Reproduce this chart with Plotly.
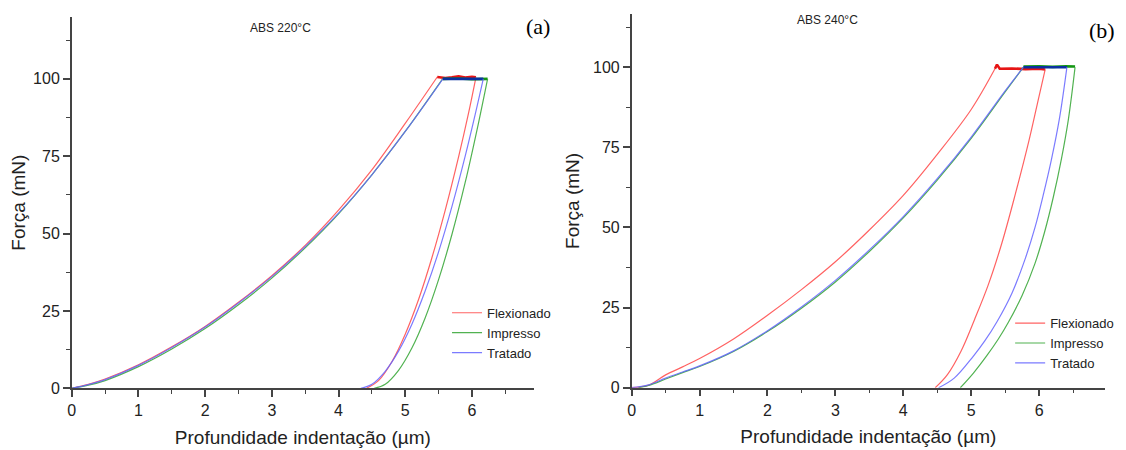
import plotly.graph_objects as go

# ---------------- data: ABS 220 °C (panel a) ----------------
flex220_load_h = [0, 0.25, 0.5, 1.0, 1.5, 2.0, 2.5, 3.0, 3.5, 4.0, 4.5, 5.0, 5.48]
flex220_load_f = [0, 1.3, 3.0, 7.6, 13.4, 20.0, 27.8, 36.4, 46.2, 57.6, 70.6, 85.6, 100.6]
flex220_hold_h = [5.48, 5.6, 5.7, 5.8, 5.9, 6.0, 6.06]
flex220_hold_f = [100.6, 100.3, 100.5, 100.8, 100.4, 100.7, 100.5]
flex220_unl_h = [6.06, 5.95, 5.8, 5.6, 5.4, 5.2, 5.0, 4.8, 4.6, 4.42]
flex220_unl_f = [100.5, 89.0, 74.8, 57.6, 42.2, 28.7, 17.5, 8.6, 2.5, 0]

imp220_load_h = [0, 0.25, 0.5, 1.0, 1.5, 2.0, 2.5, 3.0, 3.5, 4.0, 4.5, 5.0, 5.56]
imp220_load_f = [0, 1.0, 2.5, 7.0, 12.7, 19.3, 27.0, 35.6, 45.4, 56.4, 69.0, 83.0, 100.0]
imp220_hold_h = [5.56, 5.8, 6.0, 6.235]
imp220_hold_f = [100.0, 100.1, 99.9, 100.0]
imp220_unl_h = [6.235, 6.1, 5.9, 5.7, 5.5, 5.3, 5.1, 4.9, 4.7, 4.535]
imp220_unl_f = [100, 85.9, 66.6, 49.7, 35.1, 22.8, 13.0, 5.8, 1.3, 0]

trat220_load_h = [0, 0.25, 0.5, 1.0, 1.5, 2.0, 2.5, 3.0, 3.5, 4.0, 4.5, 5.0, 5.565]
trat220_load_f = [0, 1.2, 2.8, 7.4, 13.2, 19.8, 27.6, 36.1, 45.8, 56.6, 69.0, 83.0, 100.0]
trat220_hold_h = [5.565, 5.8, 6.0, 6.17]
trat220_hold_f = [100.0, 100.0, 100.0, 100.0]
trat220_unl_h = [6.17, 6.05, 5.9, 5.7, 5.5, 5.3, 5.1, 4.9, 4.7, 4.5, 4.335]
trat220_unl_f = [100, 88.6, 75.1, 58.7, 44.1, 31.5, 20.7, 12.0, 5.5, 1.3, 0]

# ---------------- data: ABS 240 °C (panel b) ----------------
flex240_load_h = [0, 0.25, 0.5, 0.75, 1.0, 1.5, 2.0, 2.5, 3.0, 3.5, 4.0, 4.5, 5.0, 5.35]
flex240_load_f = [0, 0.8, 4.0, 6.5, 9.1, 15.2, 22.6, 30.6, 39.3, 49.2, 60.0, 72.8, 86.8, 99.5]
flex240_hold_h = [5.35, 5.38, 5.42, 5.6, 5.8, 6.0, 6.09]
flex240_hold_f = [99.5, 100.8, 99.5, 99.6, 99.4, 99.5, 99.3]
flex240_unl_h = [6.09, 6.0, 5.85, 5.65, 5.45, 5.25, 5.05, 4.85, 4.65, 4.47]
flex240_unl_f = [99.3, 91.0, 77.0, 60.4, 45.0, 32.0, 21.3, 11.4, 4.1, 0]

imp240_load_h = [0.1, 0.25, 0.5, 0.75, 1.0, 1.5, 2.0, 2.5, 3.0, 3.5, 4.0, 4.5, 5.0, 5.5, 5.77]
imp240_load_f = [0, 0.7, 2.7, 4.7, 6.6, 11.3, 17.5, 24.8, 33.0, 42.5, 53.0, 64.8, 77.8, 92.3, 100.0]
imp240_hold_h = [5.77, 6.0, 6.2, 6.4, 6.53]
imp240_hold_f = [100.2, 100.3, 100.1, 100.3, 100.2]
imp240_unl_h = [6.53, 6.43, 6.33, 6.21, 6.08, 5.94, 5.75, 5.55, 5.4, 5.23, 5.03, 4.84]
imp240_unl_f = [100, 83.5, 71.5, 59.5, 48.5, 38.8, 28.8, 20.5, 15.2, 10.0, 4.5, 0]

trat240_load_h = [0, 0.25, 0.5, 0.75, 1.0, 1.5, 2.0, 2.5, 3.0, 3.5, 4.0, 4.5, 5.0, 5.5, 5.77]
trat240_load_f = [0, 0.9, 3.0, 4.9, 6.8, 11.5, 17.8, 25.2, 33.5, 43.0, 53.4, 65.2, 78.2, 92.6, 100.0]
trat240_hold_h = [5.77, 6.0, 6.2, 6.41]
trat240_hold_f = [100.0, 100.0, 100.0, 100.0]
trat240_unl_h = [6.41, 6.3, 6.18, 6.06, 5.94, 5.8, 5.6, 5.38, 5.2, 5.03, 4.75, 4.52]
trat240_unl_f = [100, 84.0, 71.0, 60.0, 50.0, 40.5, 29.5, 20.6, 14.6, 9.8, 3.0, 0]

series_names = ["Flexionado", "Impresso", "Tratado"]
line_colors = ["rgba(255,70,70,0.85)", "rgba(50,165,50,0.85)", "rgba(100,100,255,0.85)"]
hold_colors = ["rgb(230,20,20)", "rgb(20,150,20)", "rgb(10,50,160)"]

panel_a = [
    (flex220_load_h, flex220_load_f, flex220_hold_h, flex220_hold_f, flex220_unl_h, flex220_unl_f),
    (imp220_load_h, imp220_load_f, imp220_hold_h, imp220_hold_f, imp220_unl_h, imp220_unl_f),
    (trat220_load_h, trat220_load_f, trat220_hold_h, trat220_hold_f, trat220_unl_h, trat220_unl_f),
]
panel_b = [
    (flex240_load_h, flex240_load_f, flex240_hold_h, flex240_hold_f, flex240_unl_h, flex240_unl_f),
    (imp240_load_h, imp240_load_f, imp240_hold_h, imp240_hold_f, imp240_unl_h, imp240_unl_f),
    (trat240_load_h, trat240_load_f, trat240_hold_h, trat240_hold_f, trat240_unl_h, trat240_unl_f),
]

FONT = "Liberation Sans, Arial, sans-serif"
SERIF = "Liberation Serif, Times New Roman, serif"
TXT = "#222"
fig = go.Figure()

for panel, xa, ya, leg in [(panel_a, "x", "y", "legend"), (panel_b, "x2", "y2", "legend2")]:
    for i, (lh, lf, hh, hf, uh, uf) in enumerate(panel):
        grp = f"{leg}_{i}"
        fig.add_trace(go.Scatter(x=lh, y=lf, mode="lines", name=series_names[i],
                                 line=dict(color=line_colors[i], width=1.2, shape="spline"),
                                 xaxis=xa, yaxis=ya, legend=leg, legendgroup=grp, showlegend=True))
        fig.add_trace(go.Scatter(x=hh, y=hf, mode="lines", name=series_names[i],
                                 line=dict(color=hold_colors[i], width=2.6),
                                 xaxis=xa, yaxis=ya, legendgroup=grp, showlegend=False))
        fig.add_trace(go.Scatter(x=uh, y=uf, mode="lines", name=series_names[i],
                                 line=dict(color=line_colors[i], width=1.2, shape="spline"),
                                 xaxis=xa, yaxis=ya, legendgroup=grp, showlegend=False))

axis_common = dict(showline=True, linecolor="#444", linewidth=1.5, ticks="outside",
                   ticklen=7, tickwidth=1.5, tickcolor="#444", showgrid=False, zeroline=False,
                   automargin=False, tickfont=dict(family=FONT, size=16, color=TXT))
minor_x = dict(dtick=0.5, ticks="outside", ticklen=4, tickcolor="#444", tickwidth=1.2)
minor_y = dict(dtick=12.5, ticks="outside", ticklen=4, tickcolor="#444", tickwidth=1.2)
xtitle = dict(text="Profundidade indentação (µm)", font=dict(family=FONT, size=19, color=TXT), standoff=12)
ytitle = dict(text="Força (mN)", font=dict(family=FONT, size=19, color=TXT), standoff=8)

fig.update_layout(
    width=1126, height=450, margin=dict(l=0, r=0, t=0, b=0),
    paper_bgcolor="white", plot_bgcolor="white",
    xaxis=dict(domain=[0.0566, 0.4671], range=[0, 6.93], dtick=1, tick0=0, anchor="y",
               minor=minor_x, title=xtitle, **axis_common),
    yaxis=dict(domain=[0.1549, 0.98], range=[0, 120], dtick=25, tick0=0, anchor="x",
               minor=minor_y, title=ytitle, **axis_common),
    xaxis2=dict(domain=[0.5539, 0.9742], range=[0, 6.97], dtick=1, tick0=0, anchor="y2",
                minor=minor_x, title=xtitle, **axis_common),
    yaxis2=dict(domain=[0.1562, 0.9867], range=[0, 116.6], dtick=25, tick0=0, anchor="x2",
                minor=minor_y, title=ytitle, **axis_common),
    legend=dict(x=0.3899, y=0.356, xanchor="left", yanchor="top", bgcolor="rgba(0,0,0,0)",
                font=dict(family=FONT, size=13, color=TXT), tracegroupgap=0, itemwidth=30),
    legend2=dict(x=0.890, y=0.333, xanchor="left", yanchor="top", bgcolor="rgba(0,0,0,0)",
                 font=dict(family=FONT, size=13, color=TXT), tracegroupgap=0, itemwidth=30),
    annotations=[
        dict(text="ABS 220°C", x=0.2416, y=0.9556, xref="paper", yref="paper", showarrow=False,
             xanchor="center", yanchor="middle", font=dict(family=FONT, size=12, color=TXT)),
        dict(text="ABS 240°C", x=0.7274, y=0.9733, xref="paper", yref="paper", showarrow=False,
             xanchor="center", yanchor="middle", font=dict(family=FONT, size=12, color=TXT)),
        dict(text="(a)", x=0.4707, y=0.960, xref="paper", yref="paper", showarrow=False,
             xanchor="center", yanchor="middle", font=dict(family=SERIF, size=22, color="black")),
        dict(text="(b)", x=0.9716, y=0.949, xref="paper", yref="paper", showarrow=False,
             xanchor="center", yanchor="middle", font=dict(family=SERIF, size=22, color="black")),
    ],
)

fig.write_html("out.html")
